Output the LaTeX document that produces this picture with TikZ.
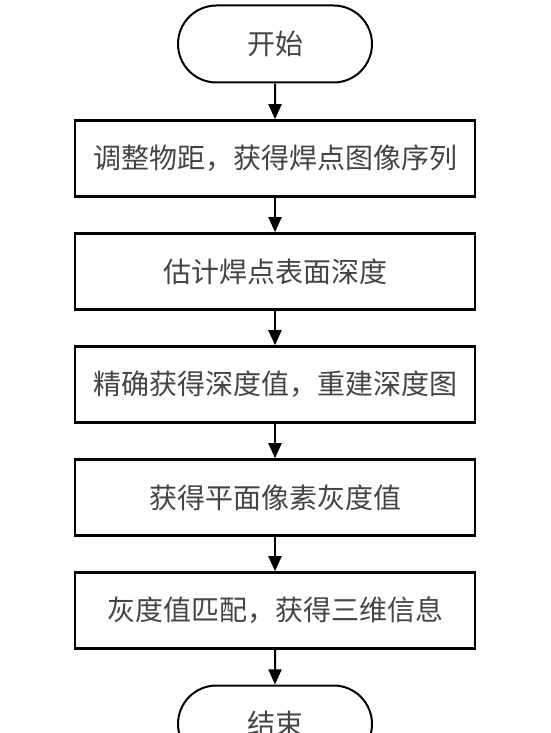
\documentclass[tikz,border=0pt]{standalone}
\usepackage{fontspec}
\newfontfamily\cjk{Noto Sans CJK SC}
\usetikzlibrary{arrows.meta,shapes.misc}
\definecolor{txt}{HTML}{444444}
\tikzset{
  stepbox/.style={draw=black, line width=2.6pt, fill=white, minimum width=400pt, minimum height=76pt, inner sep=0pt, font=\cjk\fontsize{28}{31}\selectfont, text=txt},
  term/.style={draw=black, line width=2pt, fill=white, rounded rectangle, minimum width=194pt, minimum height=77pt, inner sep=0pt, font=\cjk\fontsize{28}{31}\selectfont, text=txt},
  flow/.style={line width=2pt, -{Triangle[length=15pt,width=13pt]}, shorten >=0pt}
}
\begin{document}
\begin{tikzpicture}[x=1pt,y=-1pt]
\useasboundingbox (0,0) rectangle (550,733);
\clip (0,0) rectangle (550,733);
\fill[white] (0,0) rectangle (550,733);
\node[term] (s) at (275,44) {开始};
\node[stepbox] (b1) at (275,158.5) {调整物距，获得焊点图像序列};
\node[stepbox] (b2) at (275,271.5) {估计焊点表面深度};
\node[stepbox] (b3) at (275,384.5) {精确获得深度值，重建深度图};
\node[stepbox] (b4) at (275,497.5) {获得平面像素灰度值};
\node[stepbox] (b5) at (275,610.5) {灰度值匹配，获得三维信息};
\node[term] (e) at (275,724) {结束};
\draw[flow] (s) -- (b1);
\draw[flow] (b1) -- (b2);
\draw[flow] (b2) -- (b3);
\draw[flow] (b3) -- (b4);
\draw[flow] (b4) -- (b5);
\draw[flow] (b5) -- (e);
\end{tikzpicture}
\end{document}
